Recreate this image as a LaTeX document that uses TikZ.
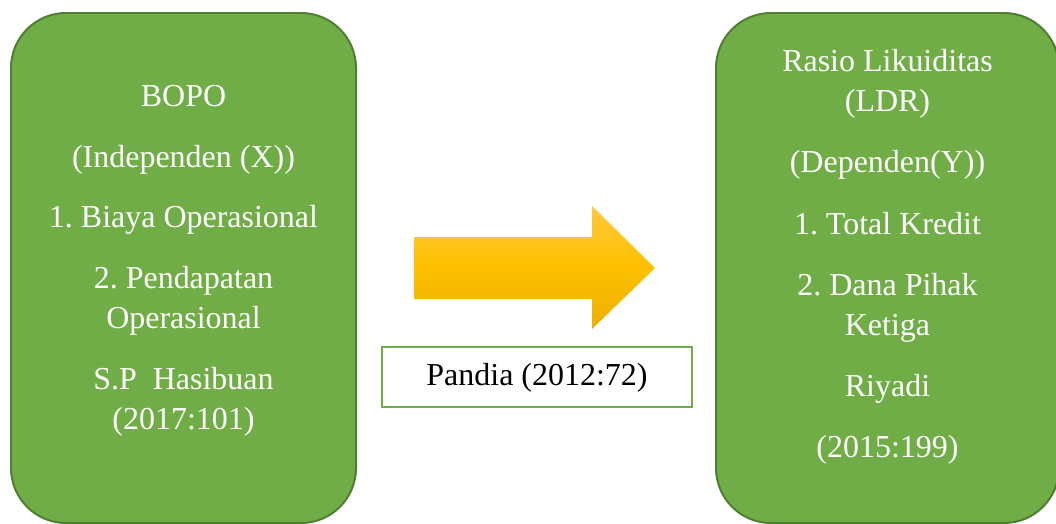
\documentclass[tikz,border=0pt]{standalone}
\usepackage{fontspec}
\setmainfont{Liberation Serif}
\frenchspacing
\definecolor{boxgreen}{HTML}{70AD47}
\definecolor{edgegreen}{HTML}{507E32}
\definecolor{gold}{HTML}{FFC000}
\definecolor{goldlight}{HTML}{FFC83C}
\definecolor{golddark}{HTML}{EDB000}
\begin{document}
\begin{tikzpicture}[x=0.02cm,y=-0.02cm,
  varbox/.style={draw=edgegreen,fill=boxgreen,line width=0.04cm,rounded corners=1.1cm},
  vartext/.style={text=white,align=center,inner sep=0pt,anchor=north,font=\fontsize{18.2}{22.8}\selectfont},
  refbox/.style={draw=boxgreen,fill=white,line width=0.04cm,minimum width=6.2cm,minimum height=1.2cm,inner sep=0pt,font=\fontsize{18.2}{22.8}\selectfont}]
\useasboundingbox (0,0) rectangle (1056,524);
% variabel X dan Y
\draw[varbox] (11,13) rectangle (356,523);
\draw[varbox] (716,13) rectangle (1059,523);
\node[vartext] (bopo) at (183.5,85) {BOPO\\[0.42cm] (Independen (X))\\[0.4cm] 1. Biaya Operasional\\[0.42cm] 2. Pendapatan\\ Operasional\\[0.42cm] S.P\ \ Hasibuan\\ (2017:101)};
\node[vartext] (ldr) at (887.5,49) {Rasio Likuiditas\\ (LDR)\\[0.42cm] (Dependen(Y))\\[0.44cm] 1. Total Kredit\\[0.42cm] 2. Dana Pihak\\ Ketiga\\[0.42cm] Riyadi\\[0.42cm] (2015:199)};
% panah pengaruh
\shade[top color=goldlight,bottom color=golddark,middle color=gold] (414,237) -- (592,237) -- (592,206) -- (655,268) -- (592,329) -- (592,299) -- (414,299) -- cycle;
\node[refbox,text depth=0.1cm] (pandia) at (537,377) {Pandia (2012:72)};
\end{tikzpicture}
\end{document}
